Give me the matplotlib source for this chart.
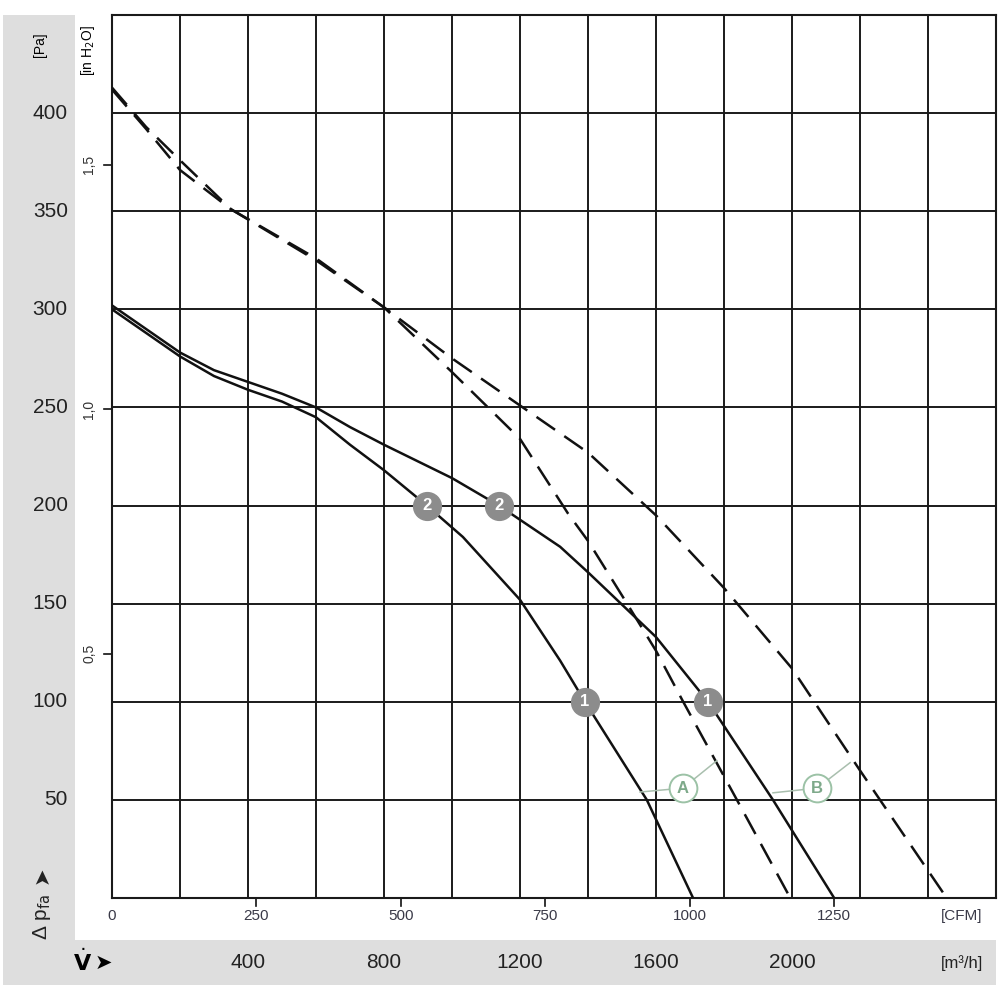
import numpy as np
import matplotlib.pyplot as plt
import matplotlib.transforms as mtransforms
from matplotlib.patches import Rectangle

plt.rcParams['font.family'] = ['Liberation Sans', 'DejaVu Sans']

# values: flow in m3/h, pressure in Pa
curve1_flow = [0, 100, 200, 300, 400, 500, 600, 700, 800, 926, 1032, 1200, 1318, 1391, 1573, 1709]
curve1_pa = [300, 288, 276, 266, 259, 253, 245, 231, 218, 200, 184, 152, 121, 100, 50, 0]

curve2_flow = [0, 100, 200, 300, 400, 500, 600, 700, 800, 1000, 1138, 1318, 1400, 1600, 1753, 1944, 2124]
curve2_pa = [302, 290, 278, 269, 263, 257, 250, 240, 231, 214, 200, 179, 166, 133, 100, 50, 0]

lineA_flow = [0, 100, 200, 350, 600, 800, 1000, 1200, 1341, 1400, 1515, 1600, 1680, 1838, 1995]
lineA_pa = [412, 392, 371, 351, 326, 301, 268, 234, 196, 182, 150, 126, 100, 50, 0]

lineB_flow = [0, 100, 200, 350, 600, 800, 1000, 1200, 1400, 1600, 1800, 2000, 2200, 2400, 2455]
lineB_pa = [413, 393, 376, 351, 325, 301, 275, 251, 227, 195, 158, 117, 65, 14, 0]

# operating point markers
point_flow = [926, 1138, 1391, 1753]
point_pa = [200, 200, 100, 100]
point_lbl = ['2', '2', '1', '1']

# A / B callouts: circle position and the two leader ends
tag_lbl = ['A', 'B']
tag_flow = [1679, 2074]
tag_pa = [56, 56]
tag_left = [(1553, 54), (1944, 53.6)]
tag_right = [(1779, 70), (2171, 69)]

pa_ticks = [50, 100, 150, 200, 250, 300, 350, 400]
inh2o_ticks = [0.5, 1.0, 1.5]
cfm_ticks = [0, 250, 500, 750, 1000, 1250]
m3h_ticks = [400, 800, 1200, 1600, 2000]

fig = plt.figure(figsize=(10, 10), dpi=100)
band = '#dedede'
fig.patches.append(Rectangle((0.003, 0.015), 0.072, 0.970, transform=fig.transFigure,
                             facecolor=band, edgecolor='none', zorder=-1))
fig.patches.append(Rectangle((0.003, 0.015), 0.993, 0.045, transform=fig.transFigure,
                             facecolor=band, edgecolor='none', zorder=-1))

ax = fig.add_axes([0.112, 0.102, 0.884, 0.883])
ax.set_xlim(0, 2600)
ax.set_ylim(0, 450)
ax.set_xticks(np.arange(0, 2601, 200))
ax.set_yticks(np.arange(0, 451, 50))
ax.grid(True, color='#1a1a1a', lw=1.4)
ax.tick_params(length=0, labelbottom=False, labelleft=False)
for s in ax.spines.values():
    s.set_linewidth(1.5)
    s.set_color('#1a1a1a')

ink = '#111111'
ax.plot(curve1_flow, curve1_pa, color=ink, lw=1.8, zorder=3)
ax.plot(curve2_flow, curve2_pa, color=ink, lw=1.8, zorder=3)
ax.plot(lineA_flow, lineA_pa, color=ink, lw=1.8, dashes=(9, 4.5), zorder=3)
ax.plot(lineB_flow, lineB_pa, color=ink, lw=1.8, dashes=(9, 4.5), zorder=3)

for x, y, t in zip(point_flow, point_pa, point_lbl):
    ax.plot(x, y, 'o', ms=20, color='#8c8c8c', mec='#8c8c8c', zorder=5)
    ax.text(x, y, t, color='white', fontsize=12, fontweight='bold',
            ha='center', va='center', zorder=6)

tag_green = '#9cc2a6'
for t, x, y, l, r in zip(tag_lbl, tag_flow, tag_pa, tag_left, tag_right):
    ax.plot([l[0], x, r[0]], [l[1], y, r[1]], color='#a9bfae', lw=1.1, zorder=4)
    ax.plot(x, y, 'o', ms=20, mfc='white', mec=tag_green, mew=1.4, zorder=5)
    ax.text(x, y, t, color='#7ea98a', fontsize=12, fontweight='bold',
            ha='center', va='center', zorder=6)

# left scale: Pa in the grey band, inch water column next to the axis
ytr = ax.get_yaxis_transform()
for p in pa_ticks:
    ax.text(-0.050, p, str(p), transform=ytr, ha='right', va='center',
            fontsize=15, color='#222222')
for v in inh2o_ticks:
    p = v * 249.089
    ax.plot([-0.009, 0], [p, p], transform=ytr, color=ink, lw=1.2, clip_on=False)
    ax.text(-0.026, p, f'{v:.1f}'.replace('.', ','), transform=ytr, rotation=90,
            ha='center', va='center', fontsize=10, color='#333333')

fig.text(0.040, 0.955, '[Pa]', rotation=90, ha='center', va='center', fontsize=10)
fig.text(0.088, 0.949, '[in H$_2$O]', rotation=90, ha='center', va='center', fontsize=10)
fig.text(0.042, 0.060, r'Δ p$_{\mathrm{fa}}$', rotation=90, ha='center', va='bottom',
         fontsize=15, color='#222222')
fig.text(0.042, 0.125, '➤', rotation=90, ha='center', va='center',
         fontsize=15, color='#222222', family='DejaVu Sans')

# bottom scales: CFM under the axis, m3/h in the grey band
xtr = ax.get_xaxis_transform()
for c in cfm_ticks:
    f = c * 1.699
    if c > 0:
        ax.plot([f, f], [0, -0.009], transform=xtr, color=ink, lw=1.2, clip_on=False)
    ax.text(f, -0.020, str(c), transform=xtr, ha='center', va='center',
            fontsize=11, color='#3a3a48')
ax.text(2500, -0.020, '[CFM]', transform=xtr, ha='center', va='center',
        fontsize=11, color='#3a3a48')

btr = mtransforms.blended_transform_factory(ax.transData, fig.transFigure)
for m in m3h_ticks:
    ax.text(m, 0.037, str(m), transform=btr, ha='center', va='center',
            fontsize=15, color='#222222')
ax.text(2500, 0.037, '[m³/h]', transform=btr, ha='center', va='center',
        fontsize=12, color='#222222')
fig.text(0.083, 0.037, r'$\dot{\mathbf{V}}$', ha='center', va='center', fontsize=16)
fig.text(0.103, 0.037, '➤', ha='center', va='center', fontsize=15,
         family='DejaVu Sans')

fig.savefig('out.png', dpi=100)
